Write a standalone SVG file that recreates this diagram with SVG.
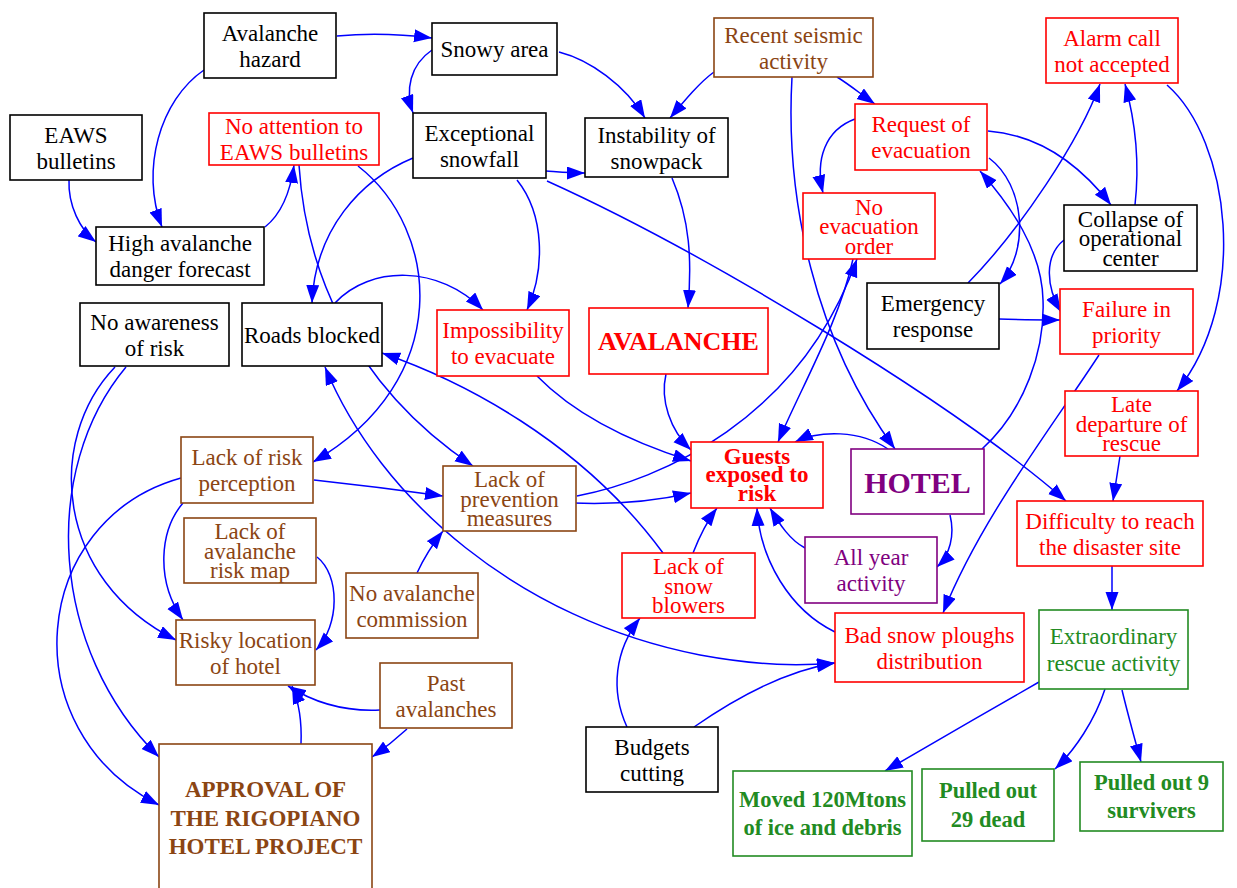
<svg xmlns="http://www.w3.org/2000/svg" width="1237" height="888" viewBox="0 0 1237 888">
<defs>
<marker id="ah" markerUnits="userSpaceOnUse" markerWidth="19" markerHeight="14" refX="18" refY="6.5" orient="auto-start-reverse" viewBox="0 0 19 14">
<path d="M0,0 L18,6.5 L0,13 z" fill="#0000ff"/>
</marker>
<style>
rect{fill:#fff;stroke-width:1.6}
.k rect{stroke:#000}.k text{fill:#000}
.r rect{stroke:#ff0000}.r text{fill:#ff0000}
.b rect{stroke:#8b4513}.b text{fill:#8b4513}
.p rect{stroke:#800080}.p text{fill:#800080}
.g rect{stroke:#228b22}.g text{fill:#228b22}
text{font-family:'Liberation Serif','Times New Roman',Tinos,'Nimbus Roman','DejaVu Serif',serif;font-size:23px;font-weight:normal;font-style:normal;text-anchor:middle}
.bold{font-weight:bold}
#edges path{fill:none;stroke:#0000ff;stroke-width:1.5;marker-end:url(#ah)}
</style>
</defs>
<rect x="0" y="0" width="1237" height="888" style="fill:#fff;stroke:none"/>
<g id="edges">
<path d="M337,36 C370,33 400,34 432,38"/>
<path d="M204,70 C160,100 140,170 162,227"/>
<path d="M69,180 C68,205 80,230 96,242"/>
<path d="M265,227 C280,215 290,195 294,165"/>
<path d="M299,165 C305,260 345,380 473,466"/>
<path d="M358,166 C440,230 455,380 313,462"/>
<path d="M432,50 C410,65 405,90 413,113"/>
<path d="M559,52 C590,60 625,85 645,118"/>
<path d="M714,72 C700,82 685,100 670,118"/>
<path d="M546,171 C560,172 570,173 585,173"/>
<path d="M517,180 C545,215 545,270 527,310"/>
<path d="M547,181 C700,250 950,400 1066,501"/>
<path d="M413,158 C360,180 315,230 312,303"/>
<path d="M672,178 C690,220 692,260 688,308"/>
<path d="M837,77 C850,85 862,95 875,104"/>
<path d="M792,77 C785,200 815,340 895,449"/>
<path d="M855,119 C825,130 815,160 823,193"/>
<path d="M988,131 C1040,135 1080,165 1111,205"/>
<path d="M989,158 C1025,185 1030,250 1000,284"/>
<path d="M982,449 C1025,410 1045,350 1043,300 C1042,250 1010,205 980,171"/>
<path d="M1064,240 C1045,255 1045,285 1061,312"/>
<path d="M999,319 C1020,320 1040,320 1060,320"/>
<path d="M968,283 C1020,230 1080,140 1100,84"/>
<path d="M1135,205 C1140,160 1135,120 1125,84"/>
<path d="M1167,85 C1230,140 1250,300 1177,391"/>
<path d="M1099,355 C1050,430 980,520 943,613"/>
<path d="M950,515 C955,535 950,555 937,567"/>
<path d="M888,449 C860,430 820,430 795,442"/>
<path d="M805,548 C790,540 780,525 770,508"/>
<path d="M835,632 C790,610 760,560 757,508"/>
<path d="M693,553 C700,535 708,520 717,508"/>
<path d="M663,553 C580,440 460,380 382,353"/>
<path d="M325,367 C380,500 520,620 700,655 C760,666 800,666 835,663" style="marker-start:url(#ah)"/>
<path d="M694,727 C740,695 790,670 835,663"/>
<path d="M627,727 C610,690 615,650 640,618"/>
<path d="M666,374 C660,400 670,430 691,450"/>
<path d="M537,376 C580,420 640,445 691,461"/>
<path d="M573,503 C620,505 660,500 691,493"/>
<path d="M577,496 C660,480 800,420 857,259"/>
<path d="M853,259 C840,320 800,390 778,442"/>
<path d="M335,303 C370,265 440,265 483,310"/>
<path d="M314,480 C360,485 400,490 443,496"/>
<path d="M417,573 C423,560 432,545 443,531"/>
<path d="M183,503 C160,530 155,580 183,620"/>
<path d="M317,557 C340,575 340,625 316,650"/>
<path d="M115,367 C45,440 55,580 176,640"/>
<path d="M126,367 C40,470 50,650 159,757"/>
<path d="M181,478 C30,520 10,730 159,805"/>
<path d="M380,710 C340,712 310,700 288,686"/>
<path d="M301,744 C302,720 298,700 292,686"/>
<path d="M407,729 C395,740 385,748 372,757"/>
<path d="M1039,682 C990,710 930,745 885,771"/>
<path d="M1105,689 C1095,720 1075,750 1055,769"/>
<path d="M1122,690 C1128,715 1135,740 1141,762"/>
<path d="M1112,566 L1112,610"/>
<path d="M1120,456 L1113,501"/>
</g>
<g id="n_avalanche_hazard" class="k"><rect x="204" y="13" width="132" height="65"/><text x="270" y="40.5">Avalanche</text><text x="270" y="66.5">hazard</text></g>
<g id="n_eaws" class="k"><rect x="10" y="115" width="132" height="65"/><text x="76" y="142.5">EAWS</text><text x="76" y="168.5">bulletins</text></g>
<g id="n_no_attention" class="r"><rect x="209" y="113" width="170" height="52"/><text x="294" y="134">No attention to</text><text x="294" y="160">EAWS bulletins</text></g>
<g id="n_hadf" class="k"><rect x="96" y="227" width="168" height="58"/><text x="180" y="251">High avalanche</text><text x="180" y="277">danger forecast</text></g>
<g id="n_snowy" class="k"><rect x="432" y="23" width="125" height="52"/><text x="494.5" y="57">Snowy area</text></g>
<g id="n_exc_snowfall" class="k"><rect x="413" y="113" width="133" height="65"/><text x="479.5" y="140.5">Exceptional</text><text x="479.5" y="166.5">snowfall</text></g>
<g id="n_instability" class="k"><rect x="585" y="118" width="143" height="59"/><text x="656.5" y="142.5">Instability of</text><text x="656.5" y="168.5">snowpack</text></g>
<g id="n_seismic" class="b"><rect x="714" y="18" width="159" height="59"/><text x="793.5" y="42.5">Recent seismic</text><text x="793.5" y="68.5">activity</text></g>
<g id="n_alarm" class="r"><rect x="1046" y="18" width="132" height="65"/><text x="1112" y="45.5">Alarm call</text><text x="1112" y="71.5">not accepted</text></g>
<g id="n_request" class="r"><rect x="855" y="104" width="132" height="66"/><text x="921" y="132">Request of</text><text x="921" y="158">evacuation</text></g>
<g id="n_no_evac_order" class="r"><rect x="803" y="193" width="132" height="66"/><text x="869" y="214.5">No</text><text x="869" y="234">evacuation</text><text x="869" y="253.5">order</text></g>
<g id="n_collapse" class="k"><rect x="1064" y="205" width="133" height="66"/><text x="1130.5" y="226.5">Collapse of</text><text x="1130.5" y="246">operational</text><text x="1130.5" y="265.5">center</text></g>
<g id="n_emergency" class="k"><rect x="867" y="283" width="132" height="66"/><text x="933" y="311">Emergency</text><text x="933" y="337">response</text></g>
<g id="n_failure" class="r"><rect x="1060" y="289" width="133" height="65"/><text x="1126.5" y="316.5">Failure in</text><text x="1126.5" y="342.5">priority</text></g>
<g id="n_no_awareness" class="k"><rect x="80" y="303" width="149" height="63"/><text x="154.5" y="329.5">No awareness</text><text x="154.5" y="355.5">of risk</text></g>
<g id="n_roads" class="k"><rect x="242" y="303" width="140" height="63"/><text x="312" y="342.5">Roads blocked</text></g>
<g id="n_impossibility" class="r"><rect x="437" y="310" width="132" height="66"/><text x="503" y="338">Impossibility</text><text x="503" y="364">to evacuate</text></g>
<g id="n_avalanche" class="r"><rect x="589" y="308" width="179" height="66"/><text class="bold" x="678.5" y="350" style="font-size:26px">AVALANCHE</text></g>
<g id="n_guests" class="r"><rect x="691" y="442" width="132" height="66"/><text class="bold" x="757" y="463.5">Guests</text><text class="bold" x="757" y="482">exposed to</text><text class="bold" x="757" y="500.5">risk</text></g>
<g id="n_hotel" class="p"><rect x="851" y="449" width="133" height="65"/><text class="bold" x="917.5" y="493" style="font-size:30px">HOTEL</text></g>
<g id="n_late" class="r"><rect x="1065" y="391" width="133" height="65"/><text x="1131.5" y="412">Late</text><text x="1131.5" y="431.5">departure of</text><text x="1131.5" y="451">rescue</text></g>
<g id="n_difficulty" class="r"><rect x="1017" y="501" width="186" height="65"/><text x="1110" y="528.5">Difficulty to reach</text><text x="1110" y="554.5">the disaster site</text></g>
<g id="n_lack_risk_perception" class="b"><rect x="181" y="437" width="132" height="66"/><text x="247" y="465">Lack of risk</text><text x="247" y="491">perception</text></g>
<g id="n_lack_prevention" class="b"><rect x="443" y="466" width="133" height="65"/><text x="509.5" y="487">Lack of</text><text x="509.5" y="506.5">prevention</text><text x="509.5" y="526">measures</text></g>
<g id="n_lack_map" class="b"><rect x="184" y="518" width="132" height="65"/><text x="250" y="539">Lack of</text><text x="250" y="558.5">avalanche</text><text x="250" y="578">risk map</text></g>
<g id="n_no_commission" class="b"><rect x="346" y="573" width="132" height="65"/><text x="412" y="600.5">No avalanche</text><text x="412" y="626.5">commission</text></g>
<g id="n_snow_blowers" class="r"><rect x="622" y="553" width="133" height="65"/><text x="688.5" y="574">Lack of</text><text x="688.5" y="593.5">snow</text><text x="688.5" y="613">blowers</text></g>
<g id="n_all_year" class="p"><rect x="805" y="537" width="132" height="66"/><text x="871" y="565">All year</text><text x="871" y="591">activity</text></g>
<g id="n_risky" class="b"><rect x="176" y="620" width="139" height="65"/><text x="245.5" y="647.5">Risky location</text><text x="245.5" y="673.5">of hotel</text></g>
<g id="n_past" class="b"><rect x="380" y="663" width="132" height="65"/><text x="446" y="690.5">Past</text><text x="446" y="716.5">avalanches</text></g>
<g id="n_approval" class="b"><rect x="159" y="744" width="213" height="148"/><text class="bold" x="265.5" y="797">APPROVAL OF</text><text class="bold" x="265.5" y="826">THE RIGOPIANO</text><text class="bold" x="265.5" y="854">HOTEL PROJECT</text></g>
<g id="n_bad_snow" class="r"><rect x="835" y="613" width="189" height="69"/><text x="929.5" y="642.5">Bad snow ploughs</text><text x="929.5" y="668.5">distribution</text></g>
<g id="n_extraordinary" class="g"><rect x="1039" y="610" width="149" height="79"/><text x="1113.5" y="644">Extraordinary</text><text x="1113.5" y="671">rescue activity</text></g>
<g id="n_budgets" class="k"><rect x="586" y="727" width="132" height="65"/><text x="652" y="754.5">Budgets</text><text x="652" y="780.5">cutting</text></g>
<g id="n_moved" class="g"><rect x="733" y="771" width="179" height="85"/><text class="bold" x="822.5" y="807" style="font-size:22.5px">Moved 120Mtons</text><text class="bold" x="822.5" y="835" style="font-size:22.5px">of ice and debris</text></g>
<g id="n_dead" class="g"><rect x="922" y="769" width="132" height="72"/><text class="bold" x="988" y="798" style="font-size:22.5px">Pulled out</text><text class="bold" x="988" y="827" style="font-size:22.5px">29 dead</text></g>
<g id="n_survivors" class="g"><rect x="1080" y="762" width="143" height="69"/><text class="bold" x="1151.5" y="790" style="font-size:22.5px">Pulled out 9</text><text class="bold" x="1151.5" y="818" style="font-size:22.5px">survivers</text></g>
</svg>
